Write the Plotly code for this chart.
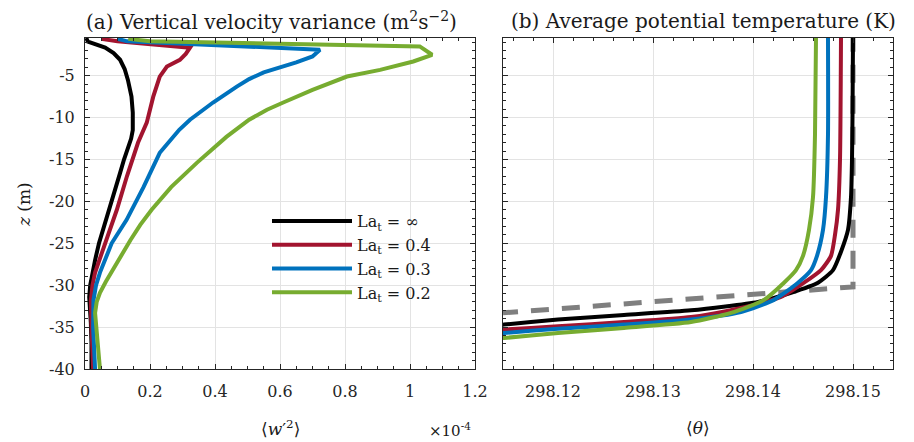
import plotly.graph_objects as go

# ---------------- data ----------------
labels = ["La<sub>t</sub> = ∞", "La<sub>t</sub> = 0.4", "La<sub>t</sub> = 0.3", "La<sub>t</sub> = 0.2"]
colors = ["#000000", "#A2142F", "#0072BD", "#77AC30"]

# (a) vertical velocity variance (x 1e-4 m^2 s^-2) vs z (m)
z_w_inf = [-0.5, -0.94, -1.65, -2.3, -3.1, -4.2, -5.5, -7.5, -9.4, -11.5, -12.5, -13.5, -15, -16.6, -19.8, -22.6, -25, -27, -28.5, -30, -31.4, -33, -34.5, -37, -40]
w_inf = [0.004, 0.009, 0.062, 0.088, 0.108, 0.122, 0.132, 0.143, 0.147, 0.147, 0.142, 0.132, 0.120, 0.108, 0.083, 0.059, 0.043, 0.031, 0.022, 0.016, 0.013, 0.014, 0.018, 0.02, 0.02]

z_w_04 = [-0.6, -0.9, -1.65, -2.4, -3.1, -3.9, -5.1, -7.5, -10.6, -13, -17, -21, -25, -27, -28.5, -30, -31.8, -35, -40]
w_04 = [0.05, 0.10, 0.323, 0.31, 0.292, 0.252, 0.23, 0.21, 0.19, 0.163, 0.129, 0.098, 0.062, 0.044, 0.031, 0.023, 0.018, 0.02, 0.025]

z_w_03 = [-0.6, -0.9, -1.9, -2.7, -3.4, -4.0, -4.6, -5.4, -6.3, -8.2, -10.25, -11.45, -14.2, -18.3, -22.2, -25, -27, -28.5, -30, -31.8, -35, -40]
w_03 = [0.10, 0.13, 0.723, 0.70, 0.65, 0.595, 0.55, 0.505, 0.467, 0.394, 0.323, 0.29, 0.23, 0.18, 0.128, 0.082, 0.06, 0.046, 0.034, 0.026, 0.025, 0.031]

z_w_02 = [-0.6, -0.9, -1.5, -2.5, -3.3, -4.3, -5.1, -6.7, -8.2, -9.06, -10.25, -12.3, -15.4, -18.3, -21, -22.8, -24.6, -26.5, -28.2, -29.6, -30.9, -32, -33.3, -36.5, -40]
w_02 = [0.133, 0.2, 1.03, 1.068, 1.01, 0.908, 0.806, 0.70, 0.61, 0.56, 0.505, 0.435, 0.344, 0.265, 0.205, 0.17, 0.14, 0.11, 0.086, 0.064, 0.046, 0.036, 0.031, 0.037, 0.046]

# (b) average potential temperature (K) vs z (m)
z_t_inf = [-0.5, -10, -15, -19.5, -23.4, -26, -28.2, -29.7, -30.9, -32, -33, -33.55, -34.1, -34.7, -35.5]
t_inf = [298.1500, 298.14995, 298.1499, 298.1498, 298.1495, 298.1488, 298.1480, 298.1465, 298.1438, 298.1405, 298.1338, 298.1271, 298.1205, 298.1151, 298.108]

z_t_04 = [-0.5, -15, -21, -24, -26.5, -28.2, -29.7, -31.4, -32.7, -33.8, -34.4, -34.9, -35.3, -36]
t_04 = [298.1488, 298.1487, 298.1485, 298.1482, 298.1478, 298.1468, 298.1451, 298.1428, 298.1388, 298.1338, 298.1271, 298.1205, 298.1151, 298.108]

z_t_03 = [-0.5, -12, -19.5, -23.4, -26.5, -28.2, -29.7, -31.75, -33.2, -34.1, -34.7, -35.2, -35.7, -36.5]
t_03 = [298.1475, 298.1475, 298.1473, 298.1470, 298.1464, 298.1458, 298.1445, 298.1421, 298.1388, 298.1338, 298.1271, 298.1205, 298.1151, 298.108]

z_t_02 = [-0.5, -12, -19.5, -23.4, -26.5, -28.2, -29.7, -31.75, -33.3, -34.4, -35.1, -35.7, -36.3, -37]
t_02 = [298.1463, 298.1462, 298.1460, 298.1456, 298.1450, 298.1443, 298.1431, 298.1411, 298.1378, 298.1338, 298.1271, 298.1205, 298.1151, 298.108]

z_t_init = [0, -30.2, -33.3]
t_init = [298.15, 298.15, 298.115]

x1_ticks = [0, 0.2, 0.4, 0.6, 0.8, 1.0, 1.2]
x1_text = ["0", "0.2", "0.4", "0.6", "0.8", "1", "1.2"]
x2_ticks = [298.12, 298.13, 298.14, 298.15]
x2_text = ["298.12", "298.13", "298.14", "298.15"]
y_ticks = [-40, -35, -30, -25, -20, -15, -10, -5]
y_text = ["-40", "-35", "-30", "-25", "-20", "-15", "-10", "-5"]

# ---------------- figure ----------------
W, H = 914, 442
FONT = "DejaVu Serif"

fig = go.Figure()

w_series = [(w_inf, z_w_inf), (w_04, z_w_04), (w_03, z_w_03), (w_02, z_w_02)]
t_series = [(t_inf, z_t_inf), (t_04, z_t_04), (t_03, z_t_03), (t_02, z_t_02)]

for i, (xs, zs) in enumerate(w_series):
    fig.add_trace(go.Scatter(x=xs, y=zs, mode="lines", name=labels[i],
                             line=dict(color=colors[i], width=4),
                             legendgroup=f"g{i}", showlegend=True,
                             xaxis="x", yaxis="y"))

fig.add_trace(go.Scatter(x=t_init, y=z_t_init, mode="lines",
                         line=dict(color="#7f7f7f", width=5, dash="18px,13px"),
                         showlegend=False, xaxis="x2", yaxis="y2"))
for i, (xs, zs) in enumerate(t_series):
    fig.add_trace(go.Scatter(x=xs, y=zs, mode="lines",
                             line=dict(color=colors[i], width=4, shape="spline", smoothing=0.6),
                             showlegend=False, xaxis="x2", yaxis="y2"))

def px_x(p):
    return p / W

def px_y(p):
    return 1 - p / H

axis_common = dict(
    showline=True, linecolor="#262626", linewidth=1, mirror="ticks",
    ticks="inside", ticklen=5, tickcolor="#262626", tickwidth=1,
    showgrid=True, gridcolor="#e3e3e3", gridwidth=1, zeroline=False,
    automargin=False,
    tickfont=dict(family=FONT, size=16, color="#262626"),
)

fig.update_layout(
    width=W, height=H,
    margin=dict(l=0, r=0, t=0, b=0, autoexpand=False),
    paper_bgcolor="white", plot_bgcolor="white",
    font=dict(family=FONT, color="#1a1a1a"),
    xaxis=dict(domain=[px_x(85), px_x(475)], range=[0, 1.2], anchor="y",
               tickmode="array", tickvals=x1_ticks, ticktext=x1_text,
               ticklabelstandoff=8,
               minor=dict(tickmode="linear", tick0=0, dtick=0.05, ticks="inside",
                          ticklen=3, tickcolor="#262626", showgrid=False),
               **axis_common),
    yaxis=dict(domain=[px_y(369), px_y(38)], range=[-40, -0.5], anchor="x",
               tickmode="array", tickvals=y_ticks, ticktext=y_text,
               ticklabelstandoff=6,
               minor=dict(tickmode="linear", tick0=0, dtick=1, ticks="inside",
                          ticklen=3, tickcolor="#262626", showgrid=False),
               **axis_common),
    xaxis2=dict(domain=[px_x(503), px_x(893)], range=[298.115, 298.154], anchor="y2",
                tickmode="array", tickvals=x2_ticks, ticktext=x2_text,
                ticklabelstandoff=8,
                minor=dict(tickmode="linear", tick0=298.12, dtick=0.002, ticks="inside",
                           ticklen=3, tickcolor="#262626", showgrid=False),
                **axis_common),
    yaxis2=dict(domain=[px_y(369), px_y(38)], range=[-40, -0.5], anchor="x2",
                tickmode="array", tickvals=y_ticks, ticktext=y_text, showticklabels=False,
                minor=dict(tickmode="linear", tick0=0, dtick=1, ticks="inside",
                           ticklen=3, tickcolor="#262626", showgrid=False),
                **axis_common),
    legend=dict(x=px_x(267), y=px_y(204), xanchor="left", yanchor="top",
                bgcolor="rgba(0,0,0,0)", borderwidth=0,
                font=dict(family=FONT, size=16, color="#1a1a1a"),
                traceorder="grouped", tracegroupgap=0, itemwidth=80),
    showlegend=True,
)

ann = [
    dict(text="(a) Vertical velocity variance (m<sup>2</sup>s<sup>−2</sup>)",
         x=px_x(271), y=px_y(21), size=20),
    dict(text="(b) Average potential temperature (K)",
         x=px_x(703), y=px_y(21), size=20),
    dict(text="⟨<i>w</i>′<sup>2</sup>⟩", x=px_x(280), y=px_y(428), size=17),
    dict(text="⟨<i>θ</i>⟩", x=px_x(698), y=px_y(428), size=17),
    dict(text="×10<sup>-4</sup>", x=px_x(450), y=px_y(430), size=15),
]
for a in ann:
    fig.add_annotation(text=a["text"], x=a["x"], y=a["y"], xref="paper", yref="paper",
                       showarrow=False, xanchor="center", yanchor="middle",
                       font=dict(family=FONT, size=a["size"], color="#1a1a1a"))
fig.add_annotation(text="<i>z</i> (m)", x=px_x(24), y=px_y(205), xref="paper", yref="paper",
                   showarrow=False, textangle=-90, xanchor="center", yanchor="middle",
                   font=dict(family=FONT, size=17, color="#1a1a1a"))

fig.write_html("out.html", config={"displayModeBar": False},
               post_script="document.body.style.margin='0';document.body.style.overflow='hidden';")
